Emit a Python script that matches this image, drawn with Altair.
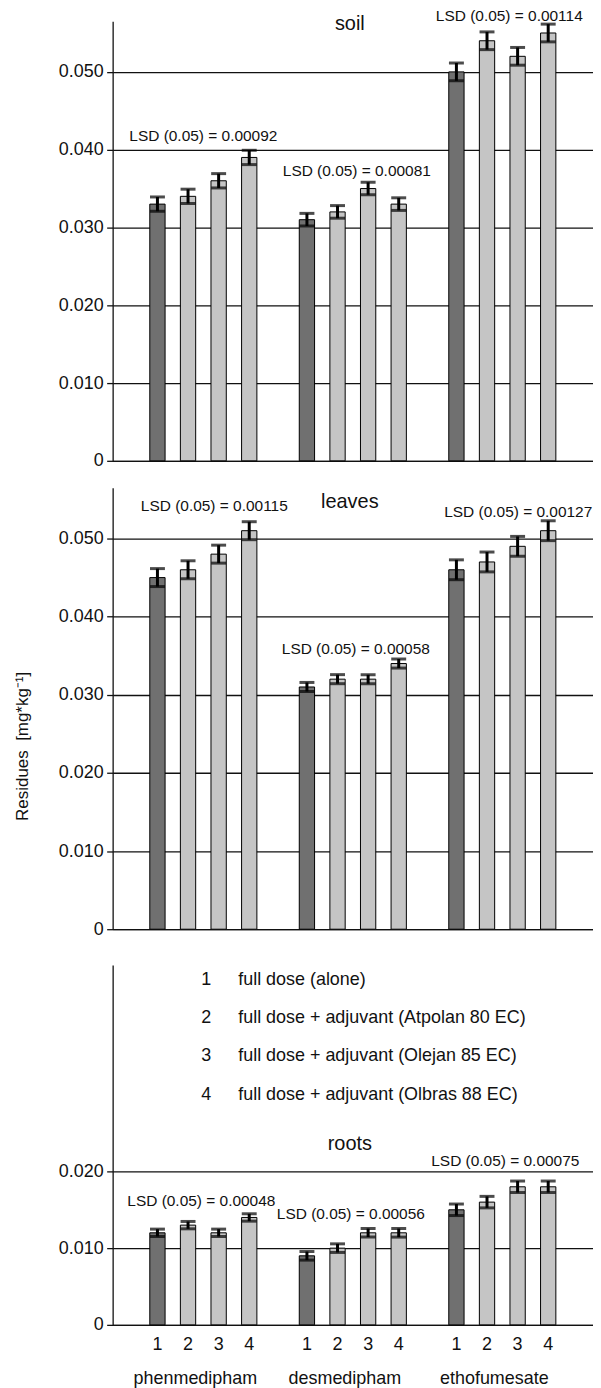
import altair as alt
import pandas as pd

FONT = "Liberation Sans"
INK = "#111111"
YTITLE = "Residues\u00a0 [mg*kg\u207b\u00b9]"

herbicides = ["phenmedipham", "desmedipham", "ethofumesate"]
treatments = ["1", "2", "3", "4"]
treatment_names = [
    "full dose (alone)",
    "full dose + adjuvant (Atpolan 80 EC)",
    "full dose + adjuvant (Olejan 85 EC)",
    "full dose + adjuvant (Olbras 88 EC)",
]

# residues [mg/kg], one list per herbicide, treatments 1..4
soil_phen = [0.033, 0.034, 0.036, 0.039]
soil_desm = [0.031, 0.032, 0.035, 0.033]
soil_etho = [0.050, 0.054, 0.052, 0.055]
leaves_phen = [0.045, 0.046, 0.048, 0.051]
leaves_desm = [0.031, 0.032, 0.032, 0.034]
leaves_etho = [0.046, 0.047, 0.049, 0.051]
roots_phen = [0.012, 0.013, 0.012, 0.014]
roots_desm = [0.009, 0.010, 0.012, 0.012]
roots_etho = [0.015, 0.016, 0.018, 0.018]

# LSD (0.05) per herbicide, also used as the error-bar half length
soil_lsd = [0.00092, 0.00081, 0.00114]
leaves_lsd = [0.00115, 0.00058, 0.00127]
roots_lsd = [0.00048, 0.00056, 0.00075]

# where the LSD labels sit (in data units) and their small horizontal nudges
soil_lsd_at = [0.0417, 0.0372, 0.0572]
leaves_lsd_at = [0.0542, 0.0358, 0.0534]
roots_lsd_at = [0.0161, 0.0144, 0.0213]
soil_lsd_dx = [0, 4, 7]
leaves_lsd_dx = [11, 3, 16]
roots_lsd_dx = [-2, -2, 3]

soil_ticks = [0, 0.01, 0.02, 0.03, 0.04, 0.05]
roots_ticks = [0, 0.01, 0.02]
legend_at = [0.045, 0.040, 0.035, 0.030]

LABEL_EXPR = "datum.value == 0 ? '0' : format(datum.value, '.3f')"
PLOT_W = 482


def panel(name, name_at, values, lsd, lsd_at, lsd_dx, height, ymax, ticks,
          bottom=False, show_title=False, legend=False):
    rows = []
    for h, vals, e in zip(herbicides, values, lsd):
        for t, v in zip(treatments, vals):
            rows.append({"herbicide": h, "treatment": t, "value": v,
                         "lo": v - e, "hi": v + e})
    df = pd.DataFrame(rows)

    if bottom:
        xaxis = alt.Axis(title=None, labels=True, ticks=False, tickSize=0,
                         labelAngle=0, labelFontSize=18, labelFont=FONT,
                         labelColor=INK, labelPadding=45, labelOffset=-8,
                         domainColor=INK, domainWidth=1.3)
    else:
        xaxis = alt.Axis(title=None, labels=False, ticks=False, tickSize=0,
                         domainColor=INK, domainWidth=1.3)
    xscale = alt.Scale(domain=herbicides, paddingInner=0, paddingOuter=0.1067,
                       align=0.5)

    def X():
        return alt.X("herbicide:N", sort=herbicides, scale=xscale, axis=xaxis)

    yaxis = alt.Axis(values=ticks, labelExpr=LABEL_EXPR, grid=True,
                     gridColor=INK, gridWidth=1.3, domainColor=INK,
                     domainWidth=1.3, tickColor=INK, tickWidth=1.3,
                     tickSize=6, labelPadding=3.5, labelFontSize=18,
                     labelFont=FONT, labelColor=INK, title=YTITLE,
                     titleFont=FONT, titleFontSize=17,
                     titleFontWeight="normal", titleColor=INK,
                     titlePadding=27, titleOpacity=1 if show_title else 0,
                     **({"titleY": 259} if show_title else {}))
    yscale = alt.Scale(domain=[0, ymax], nice=False, zero=True)

    def Y(field):
        return alt.Y(field, type="quantitative", scale=yscale, axis=yaxis)

    xo = alt.XOffset("treatment:N", sort=treatments,
                     scale=alt.Scale(domain=treatments, paddingInner=0.5,
                                     paddingOuter=0.693))

    base = alt.Chart(df)
    bars = base.mark_bar(stroke="black", strokeWidth=1).encode(
        x=X(), xOffset=xo, y=Y("value"),
        color=alt.Color("treatment:N",
                        scale=alt.Scale(domain=treatments,
                                        range=["#707070", "#c5c5c5",
                                               "#c5c5c5", "#c5c5c5"]),
                        legend=None),
    )
    err = base.mark_bar(width=3, color="black").encode(
        x=X(), xOffset=xo, y=Y("lo"), y2="hi")
    cap_hi = base.mark_tick(color="black", thickness=3, size=15).encode(
        x=X(), xOffset=xo, y=Y("hi"))
    cap_lo = base.mark_tick(color="black", thickness=3, size=15).encode(
        x=X(), xOffset=xo, y=Y("lo"))

    layers = [bars, err, cap_hi, cap_lo]

    title_df = pd.DataFrame({"herbicide": ["desmedipham"], "ypos": [name_at],
                             "label": [name]})
    layers.append(alt.Chart(title_df).mark_text(
        fontSize=20, font=FONT, color=INK, baseline="middle", dx=-3).encode(
        x=X(), y=Y("ypos"), text="label:N"))

    for h, e, at, dx in zip(herbicides, lsd, lsd_at, lsd_dx):
        ldf = pd.DataFrame({"herbicide": [h], "ypos": [at],
                            "label": [f"LSD (0.05) = {e:.5f}"]})
        layers.append(alt.Chart(ldf).mark_text(
            fontSize=15.5, font=FONT, color=INK, baseline="middle",
            dx=dx).encode(x=X(), y=Y("ypos"), text="label:N"))

    if legend:
        gdf = pd.DataFrame({"herbicide": ["phenmedipham"] * 4,
                            "ypos": legend_at, "num": treatments,
                            "label": treatment_names})
        layers.append(alt.Chart(gdf).mark_text(
            fontSize=18, font=FONT, color=INK, baseline="middle",
            align="center", dx=3).encode(x=X(), y=Y("ypos"), text="num:N"))
        layers.append(alt.Chart(gdf).mark_text(
            fontSize=18, font=FONT, color=INK, baseline="middle",
            align="left", dx=35).encode(x=X(), y=Y("ypos"), text="label:N"))

    if bottom:
        layers.append(base.mark_text(
            fontSize=18, font=FONT, color=INK, baseline="middle").encode(
            x=X(), xOffset=xo, y=alt.value(height + 20), text="treatment:N"))

    return alt.layer(*layers).properties(width=PLOT_W, height=height)


soil = panel("soil", 0.0562, [soil_phen, soil_desm, soil_etho], soil_lsd,
             soil_lsd_at, soil_lsd_dx, 441, 0.0565, soil_ticks)
leaves = panel("leaves", 0.0547, [leaves_phen, leaves_desm, leaves_etho],
               leaves_lsd, leaves_lsd_at, leaves_lsd_dx, 443, 0.0565,
               soil_ticks, show_title=True)
roots = panel("roots", 0.0236, [roots_phen, roots_desm, roots_etho],
              roots_lsd, roots_lsd_at, roots_lsd_dx, 361, 0.0469,
              roots_ticks, bottom=True, legend=True)

chart = alt.vconcat(
    alt.vconcat(soil, leaves, spacing=18),
    roots,
    spacing=27,
).properties(
    padding={"left": 5, "top": -2, "right": 0, "bottom": 0},
    background="white",
).configure_view(stroke=None)

chart.save("out.html", embed_options={"renderer": "svg", "actions": False})
